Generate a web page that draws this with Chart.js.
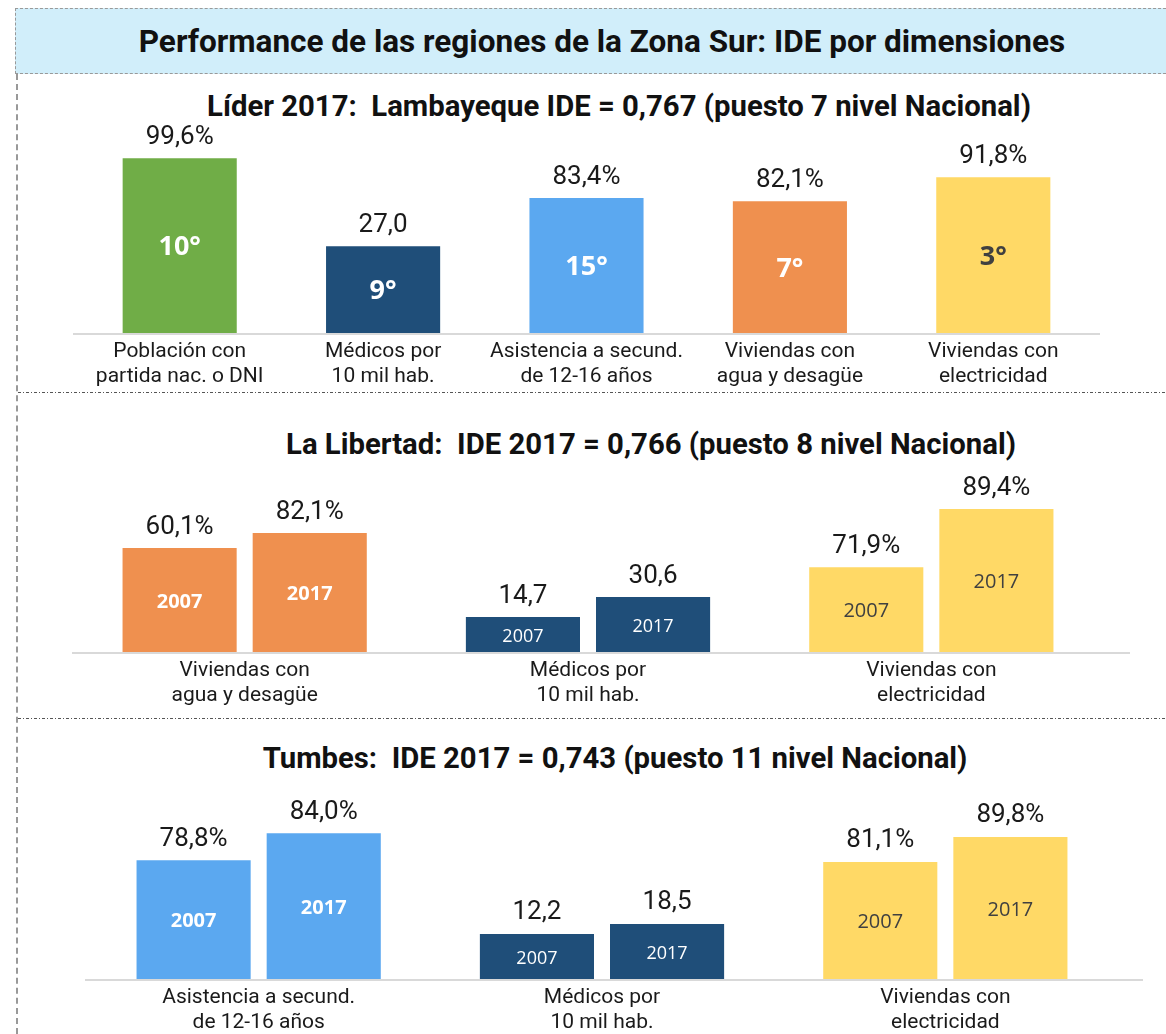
<!DOCTYPE html>
<html>
<head>
<meta charset="utf-8">
<script src="https://cdn.jsdelivr.net/npm/chart.js@4.4.0/dist/chart.umd.min.js"></script>
<style>
  body { margin: 0; width: 1166px; height: 1034px; overflow: hidden; background: #fff; position: relative; font-family: Roboto, sans-serif; color: #111; }
  .header { position: absolute; left: 15px; top: 8px; width: 1170px; height: 64px; background: #d1eefa;
            border-top: 1px dashed #999; border-bottom: 1px dashed #999; border-left: 1px dashed #999; }
  .header h1 { margin: 0; width: 1172px; text-align: center; font-size: 31.5px; font-weight: 700; line-height: 66px; }
  .vline { position: absolute; left: 16px; top: 74px; height: 960px; border-left: 2px dashed #999; }
  .sep { position: absolute; left: 18px; width: 1148px; height: 1px;
         background: repeating-linear-gradient(to right, #555 0 3px, transparent 3px 5px, #555 5px 6px, transparent 6px 8px); }
  .ptitle { position: absolute; left: 0; margin: 0; text-align: center; font-size: 29.3px; font-weight: 700; line-height: 30px; white-space: pre; }
  canvas { position: absolute; left: 0; }
</style>
</head>
<body>
<div class="header"><h1>Performance de las regiones de la Zona Sur: IDE por dimensiones</h1></div>
<div class="vline"></div>
<div class="sep" style="top:392px"></div>
<div class="sep" style="top:718px"></div>

<div class="ptitle" style="top:91px;width:1238px">Líder 2017:  Lambayeque IDE = 0,767 (puesto 7 nivel Nacional)</div>
<div class="ptitle" style="top:429px;width:1302px">La Libertad:  IDE 2017 = 0,766 (puesto 8 nivel Nacional)</div>
<div class="ptitle" style="top:743px;width:1230px">Tumbes:  IDE 2017 = 0,743 (puesto 11 nivel Nacional)</div>

<canvas id="lambayeque" width="1166" height="273" style="top:120px"></canvas>
<canvas id="libertad" width="1166" height="247" style="top:465px"></canvas>
<canvas id="tumbes" width="1166" height="254" style="top:780px"></canvas>

<script>
// Lambayeque (lider 2017)
const lambayequeCategories = [['Población con', 'partida nac. o DNI'], ['Médicos por', '10 mil hab.'],
  ['Asistencia a secund.', 'de 12-16 años'], ['Viviendas con', 'agua y desagüe'], ['Viviendas con', 'electricidad']];
const lambayequeValues = [99.6, 27.0, 83.4, 82.1, 91.8];
const lambayequeRanks = ['10°', '9°', '15°', '7°', '3°'];
const lambayequeUnits = ['%', '', '%', '%', '%'];

// La Libertad and Tumbes, 2007 vs 2017
const years = ['2007', '2017'];
const libertadCategories = [['Viviendas con', 'agua y desagüe'], ['Médicos por', '10 mil hab.'], ['Viviendas con', 'electricidad']];
const libertad2007 = [60.1, 14.7, 71.9];
const libertad2017 = [82.1, 30.6, 89.4];
const libertadUnits = ['%', '', '%'];

const tumbesCategories = [['Asistencia a secund.', 'de 12-16 años'], ['Médicos por', '10 mil hab.'], ['Viviendas con', 'electricidad']];
const tumbes2007 = [78.8, 12.2, 81.1];
const tumbes2017 = [84.0, 18.5, 89.8];
const tumbesUnits = ['%', '', '%'];

const GREEN = '#70AD47', NAVY = '#1F4E79', BLUE = '#5BA8F0', ORANGE = '#EF904F', YELLOW = '#FFD966';
const BOLD_BIG = 'bold 27px "Open Sans"';
const BOLD = 'bold 20px "Open Sans"';
const REG = '20px "Open Sans"';
const REG_SMALL = '18px "Open Sans"';

// every bar group in the original has its own hidden scale
const pctRange = [28.5, 107];

const barLabels = {
  id: 'barLabels',
  afterDatasetsDraw(chart) {
    const ctx = chart.ctx;
    chart.data.datasets.forEach((ds, i) => {
      chart.getDatasetMeta(i).data.forEach((bar, j) => {
        const v = ds.data[j];
        if (v == null) return;
        ctx.save();
        ctx.textAlign = 'center';
        ctx.textBaseline = 'middle';
        ctx.fillStyle = '#1a1a1a';
        ctx.font = '26px Roboto';
        ctx.fillText(v.toFixed(1).replace('.', ',') + ds.unit, bar.x, bar.y - 21);
        ctx.fillStyle = ds.innerColor;
        ctx.font = ds.innerFont;
        ctx.fillText(ds.inner, bar.x, (bar.y + bar.base) / 2 + 2);
        ctx.restore();
      });
    });
  }
};

const baseline = {
  id: 'baseline',
  beforeDatasetsDraw(chart, args, opts) {
    const { ctx, chartArea } = chart;
    ctx.save();
    ctx.strokeStyle = '#d9d9d9';
    ctx.lineWidth = 2;
    ctx.beginPath();
    ctx.moveTo(chartArea.left - opts.left, chartArea.bottom + 1);
    ctx.lineTo(chartArea.right + opts.right, chartArea.bottom + 1);
    ctx.stroke();
    ctx.restore();
  }
};

function makePanel(id, cfg) {
  const datasets = [];
  const scales = {
    x: {
      grid: { display: false, drawTicks: false },
      border: { display: false },
      ticks: { color: '#1a1a1a', font: { family: 'Roboto', size: 21, lineHeight: 1.2 }, padding: 6, maxRotation: 0, autoSkip: false },
      afterFit: s => { s.height = cfg.xHeight; }
    }
  };
  cfg.categories.forEach((c, g) => {
    const [min, max] = cfg.ranges[g];
    scales['y' + g] = { display: false, min, max };
    cfg.series.forEach((vals, s) => {
      datasets.push({
        label: cfg.seriesLabels[s],
        data: cfg.categories.map((_, j) => j === g ? vals[g] : null),
        yAxisID: 'y' + g,
        base: min,
        backgroundColor: cfg.colors[g],
        unit: cfg.units[g],
        inner: cfg.inner ? cfg.inner[g] : cfg.seriesLabels[s],
        innerColor: cfg.innerColors[g],
        innerFont: cfg.innerFonts[g]
      });
    });
  });
  return new Chart(document.getElementById(id), {
    type: 'bar',
    data: { labels: cfg.categories, datasets },
    options: {
      responsive: false,
      animation: false,
      skipNull: true,
      categoryPercentage: cfg.catPct,
      barPercentage: cfg.barPct,
      layout: { padding: cfg.padding },
      scales,
      plugins: { legend: { display: false }, tooltip: { enabled: false }, baseline: cfg.line }
    },
    plugins: [baseline, barLabels]
  });
}

function draw() {
  makePanel('lambayeque', {
    categories: lambayequeCategories,
    series: [lambayequeValues],
    seriesLabels: ['2017'],
    inner: lambayequeRanks,
    units: lambayequeUnits,
    ranges: [pctRange, [0, 60], pctRange, pctRange, pctRange],
    colors: [GREEN, NAVY, BLUE, ORANGE, YELLOW],
    innerColors: ['#fff', '#fff', '#fff', '#fff', '#404040'],
    innerFonts: [BOLD_BIG, BOLD_BIG, BOLD_BIG, BOLD_BIG, BOLD_BIG],
    catPct: 0.561, barPct: 1,
    padding: { left: 78, right: 71, top: 20, bottom: 0 },
    xHeight: 60,
    line: { left: 5, right: 5 }
  });

  makePanel('libertad', {
    categories: libertadCategories,
    series: [libertad2007, libertad2017],
    seriesLabels: years,
    units: libertadUnits,
    ranges: [[-92.4, 174.5], [-13.1, 131.6], [46.3, 101.2]],
    colors: [ORANGE, NAVY, YELLOW],
    innerColors: ['#fff', '#fff', '#404040'],
    innerFonts: [BOLD, REG_SMALL, REG],
    catPct: 0.758, barPct: 0.877,
    padding: { left: 73, right: 63, top: 5, bottom: 0 },
    xHeight: 60,
    line: { left: 1, right: 27 }
  });

  makePanel('tumbes', {
    categories: tumbesCategories,
    series: [tumbes2007, tumbes2017],
    seriesLabels: years,
    units: tumbesUnits,
    ranges: [[55.9, 90.6], [-16.2, 97.3], [40.4, 103.0]],
    colors: [BLUE, NAVY, YELLOW],
    innerColors: ['#fff', '#fff', '#404040'],
    innerFonts: [BOLD, REG_SMALL, REG],
    catPct: 0.758, barPct: 0.877,
    padding: { left: 87, right: 49, top: 19, bottom: 0 },
    xHeight: 55,
    line: { left: 2, right: 26 }
  });
}

Promise.all([
  document.fonts.load('26px Roboto'),
  document.fonts.load('bold 30px Roboto'),
  document.fonts.load('20px "Open Sans"'),
  document.fonts.load('bold 20px "Open Sans"')
]).then(draw, draw);
</script>
</body>
</html>
